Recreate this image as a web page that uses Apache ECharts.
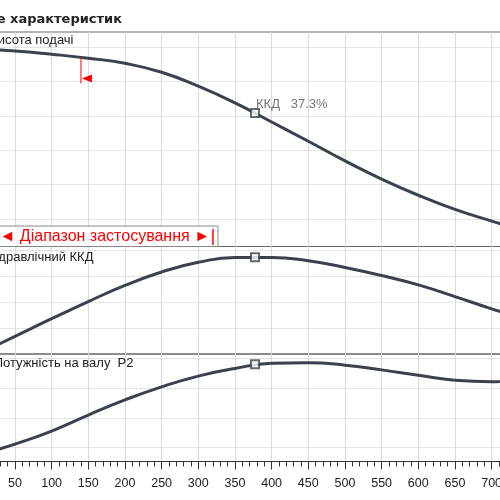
<!DOCTYPE html>
<html>
<head>
<meta charset="utf-8">
<script src="https://cdn.jsdelivr.net/npm/echarts@6/dist/echarts.min.js"></script>
<style>
  html, body { margin: 0; padding: 0; background: #fff; }
  #main { width: 500px; height: 500px; }
</style>
</head>
<body>
<div id="main"></div>
<script>
// подача, м3/год (вісь X)
const flow = [0, 50, 100, 150, 200, 250, 300, 350, 400, 450, 500, 550, 600, 650, 700, 750];
// висота подачі, м
const head = [11.88, 11.77, 11.58, 11.35, 11.05, 10.53, 9.72, 8.75, 7.64, 6.52, 5.38, 4.32, 3.38, 2.56, 1.88, 1.24];
// гідравлічний ККД, %
const efficiency = [0, 6.8, 13.6, 20.2, 26.4, 31.6, 35.3, 37.2, 37.2, 35.9, 33.3, 30.2, 26.6, 22.1, 17.4, 13.2];
// потужність на валу P2, кВт
const power = [0.75, 1.12, 1.56, 2.10, 2.61, 3.05, 3.41, 3.67, 3.84, 3.86, 3.78, 3.62, 3.44, 3.27, 3.22, 3.36];

// робоча точка (максимальний ККД)
const bestFlow = 377.3;
const bestHead = 8.16;
const bestEff = 37.3;
const bestPower = 3.81;

// діапазон застосування
const rangeStart = 140;
const rangeEnd = 320;

const xStep = 50;

const lineColor = '#3a424d';
const gridLeft = -21.7, gridRight = -28.3;

function pairs(ys) { return flow.map((q, i) => [q, ys[i]]); }
function interp(ys, q) {
  for (let i = 1; i < flow.length; i++) {
    if (q <= flow[i]) {
      const t = (q - flow[i - 1]) / (flow[i] - flow[i - 1]);
      return ys[i - 1] + t * (ys[i] - ys[i - 1]);
    }
  }
  return ys[ys.length - 1];
}

const chart = echarts.init(document.getElementById('main'));

const xAxes = [0, 1, 2].map(i => ({
  type: 'value',
  gridIndex: i,
  min: 0,
  max: 750,
  interval: xStep,
  axisLine: { show: i === 2, lineStyle: { color: '#333', width: 1 } },
  axisTick: { show: i === 2, length: 8, lineStyle: { color: '#333' } },
  minorTick: { show: i === 2, splitNumber: 5, length: 5, lineStyle: { color: '#333' } },
  axisLabel: {
    show: i === 2, margin: 16, color: '#222',
    fontFamily: 'Liberation Sans', fontSize: 12.5
  },
  splitLine: { show: true, lineStyle: { color: '#dadada', width: 1 } }
}));

const ySplit = { show: true, showMinLine: false, showMaxLine: false, lineStyle: { color: '#e4e4e4', width: 1 } };
const yHidden = { axisLine: { show: false }, axisTick: { show: false }, axisLabel: { show: false } };

const gridBase = { left: gridLeft, right: gridRight, containLabel: false, outerBoundsMode: 'none',
  show: true, borderColor: '#666', borderWidth: 1 };

const markerStyle = { color: '#fff', borderColor: lineColor, borderWidth: 2 };

chart.setOption({
  animation: false,
  grid: [
    Object.assign({ top: 32, height: 214.5 }, gridBase),
    Object.assign({ top: 246.5, height: 107.5 }, gridBase),
    Object.assign({ top: 354, height: 107.5 }, gridBase)
  ],
  xAxis: xAxes,
  yAxis: [
    Object.assign({ type: 'value', gridIndex: 0, min: 0.401, max: 12.872, splitNumber: 6, splitLine: ySplit }, yHidden),
    Object.assign({ type: 'value', gridIndex: 1, min: 0, max: 41.4, interval: 10, splitLine: ySplit }, yHidden),
    Object.assign({ type: 'value', gridIndex: 2, min: 0.535, max: 4.155, splitNumber: 4, splitLine: ySplit }, yHidden)
  ],
  series: [
    { type: 'line', xAxisIndex: 0, yAxisIndex: 0, data: pairs(head), smooth: true, showSymbol: false,
      lineStyle: { color: lineColor, width: 3 } },
    { type: 'line', xAxisIndex: 1, yAxisIndex: 1, data: pairs(efficiency), smooth: true, showSymbol: false,
      lineStyle: { color: lineColor, width: 3 } },
    { type: 'line', xAxisIndex: 2, yAxisIndex: 2, data: pairs(power), smooth: true, showSymbol: false,
      lineStyle: { color: lineColor, width: 3 } },
    { type: 'scatter', xAxisIndex: 0, yAxisIndex: 0, data: [[bestFlow, bestHead]], symbol: 'rect', symbolSize: 8, z: 5,
      itemStyle: markerStyle,
      label: { show: true, position: [6, -10], formatter: 'ККД   ' + bestEff + '%',
        color: '#4a5260', fontFamily: 'Liberation Sans', fontSize: 13 } },
    { type: 'scatter', xAxisIndex: 1, yAxisIndex: 1, data: [[bestFlow, bestEff]], symbol: 'rect', symbolSize: 8, z: 5,
      itemStyle: markerStyle },
    { type: 'scatter', xAxisIndex: 2, yAxisIndex: 2, data: [[bestFlow, bestPower]], symbol: 'rect', symbolSize: 8, z: 5,
      itemStyle: markerStyle }
  ]
});

// підписи та діапазон застосування
const xs = chart.convertToPixel({ xAxisIndex: 0 }, rangeStart);
const xe = chart.convertToPixel({ xAxisIndex: 0 }, rangeEnd);
const ys = chart.convertToPixel({ yAxisIndex: 0 }, interp(head, rangeStart));

const label = (text, right, y, font) => ({
  type: 'text', x: right, y: y, z: 100,
  style: { text: text, font: font, fill: '#222', align: 'right', verticalAlign: 'middle' }
});

chart.setOption({
  graphic: [
    label('Поле характеристик', 122, 20, 'bold 13px "DejaVu Sans"'),
    label('Висота подачі', 73.5, 40.5, '13px "Liberation Sans"'),
    label('Гідравлічний ККД', 93.5, 257.5, '13px "Liberation Sans"'),
    label('Потужність на валу  P2', 133.5, 363, '13px "Liberation Sans"'),
    { type: 'rect', z: 100, shape: { x: -10, y: 226, width: xe + 5 + 10, height: 20.5 },
      style: { fill: '#fff', stroke: '#888', lineWidth: 1 } },
    { type: 'text', z: 101, x: xe - 3, y: 236.5,
      style: { text: '◄ Діапазон застосування ►', font: '16px "Liberation Sans"', fill: '#ff0000',
        align: 'right', verticalAlign: 'middle' } },
    { type: 'line', z: 101, shape: { x1: xe, y1: 229, x2: xe, y2: 245 },
      style: { stroke: '#ff0000', lineWidth: 1.5 } },
    { type: 'line', z: 101, shape: { x1: xs, y1: ys, x2: xs, y2: ys + 26 },
      style: { stroke: '#ff0000', lineWidth: 1 } },
    { type: 'polygon', z: 101, shape: { points: [[xs + 1, ys + 21], [xs + 11, ys + 17], [xs + 11, ys + 25]] },
      style: { fill: '#ff0000' } }
  ]
});
</script>
</body>
</html>
